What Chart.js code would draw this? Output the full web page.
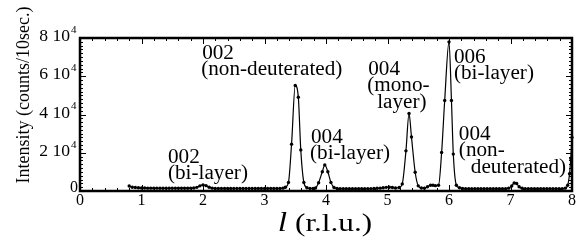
<!DOCTYPE html>
<html><head><meta charset="utf-8">
<script src="https://cdn.jsdelivr.net/npm/chart.js@4/dist/chart.umd.min.js"></script>
<style>html,body{margin:0;padding:0;background:#fff}</style>
</head><body>
<canvas id="c" width="586" height="242"></canvas>
<script>
// ---- data ----
const lValues = [
 0.80,0.85,0.90,0.95,1.00,1.05,1.10,1.15,1.20,1.25,1.30,1.35,1.40,1.45,1.50,1.55,1.60,1.65,1.70,1.75,
 1.80,1.85,1.90,1.95,2.00,2.05,2.10,2.15,2.20,2.25,2.30,2.35,2.40,2.45,2.50,2.55,2.60,2.65,2.70,2.75,
 2.80,2.85,2.90,2.95,3.00,3.05,3.10,3.15,3.20,3.25,3.30,3.34,3.39,3.44,3.50,3.55,3.59,3.64,3.69,3.74,
 3.79,3.83,3.88,3.94,3.98,4.03,4.08,4.13,4.18,4.23,4.28,4.33,4.38,4.43,4.48,4.53,4.58,4.63,4.68,4.73,
 4.78,4.83,4.88,4.93,4.98,5.03,5.08,5.13,5.19,5.24,5.30,5.35,5.39,5.45,5.50,5.55,5.60,5.65,5.70,5.74,
 5.78,5.83,5.88,5.93,6.00,6.04,6.07,6.12,6.17,6.22,6.27,6.32,6.37,6.42,6.47,6.52,6.57,6.62,6.67,6.72,
 6.77,6.82,6.87,6.92,6.97,7.02,7.06,7.10,7.14,7.19,7.24,7.29,7.34,7.39,7.44,7.49,7.54,7.59,7.64,7.69,
 7.74,7.79,7.84,7.89,7.93,7.96,7.98,8.00
];
const counts = [
 2600,2000,1800,1700,1600,1600,1500,1500,1500,1500,1400,1400,1400,1400,1400,1400,1400,1400,1400,1400,
 1500,1600,1900,2700,3200,2800,2000,1500,1300,1300,1300,1300,1300,1300,1300,1300,1300,1300,1300,1300,
 1300,1300,1300,1300,1300,1300,1300,1300,1300,1300,1500,2000,4500,24500,55200,49000,21500,4500,1700,1300,
 1300,1600,4300,10100,13600,10100,4500,1800,1300,1200,1200,1200,1200,1200,1200,1200,1200,1200,1200,1200,
 1300,1400,1500,1700,1900,2000,1800,1600,1800,3700,21000,40500,28200,9800,2700,1600,1500,2200,3000,3000,
 2800,3000,20100,47300,78000,47300,19300,3000,1700,1300,1200,1200,1200,1200,1200,1200,1200,1200,1200,1200,
 1200,1200,1200,1200,1500,2600,4200,3900,2200,1400,1200,1200,1200,1200,1200,1200,1200,1200,1200,1200,
 1200,1200,1200,1500,3000,9000,17000,28000
];
const xTickValues = [0,1,2,3,4,5,6,7,8];
const yTickValues = [0,20000,40000,60000,80000];
const yTickMantissa = ['0','2 10','4 10','6 10','8 10'];
const yTickExponent = ['','4','4','4','4'];
const peakLabels = [
 {l:1.43, c:14700, lines:['002','(bi-layer)'], dx:[0,0]},
 {l:1.97, c:69100, lines:['002','(non-deuterated)'], dx:[1,0]},
 {l:3.74, c:25100, lines:['004','(bi-layer)'], dx:[1,0]},
 {l:4.67, c:60700, lines:['004','(mono-','layer)'], dx:[1,0,10]},
 {l:6.08, c:67000, lines:['006','(bi-layer)'], dx:[0,0]},
 {l:6.16, c:26700, lines:['004','(non-','deuterated)'], dx:[0,0,12]}
];
const yTitle = 'Intensity (counts/10sec.)';
const xTitleItalic = 'l';
const xTitleRest = ' (r.l.u.)';

const SERIF = '"Liberation Serif", "DejaVu Serif", serif';

function stretchText(ctx, text, x, y, sx) {
 ctx.save(); ctx.translate(x, y); ctx.scale(sx, 1); ctx.fillText(text, 0, 0); ctx.restore();
}

const decorPlugin = {
 id:'decor',
 afterDatasetsDraw(chart){
  const ctx = chart.ctx, a = chart.chartArea, xs = chart.scales.x, ys = chart.scales.y;
  ctx.save();
  ctx.strokeStyle = '#000'; ctx.fillStyle = '#000';
  ctx.lineWidth = 1;
  ctx.beginPath();
  for (let i = 0; i <= 40; i++) {
   const v = i * 0.2, px = Math.round(xs.getPixelForValue(v)) + 0.5;
   const len = (i % 5 === 0) ? 6 : 3;
   ctx.moveTo(px, a.bottom); ctx.lineTo(px, a.bottom - len);
   ctx.moveTo(px, a.top); ctx.lineTo(px, a.top + len);
  }
  for (let i = 0; i <= 40; i++) {
   const v = i * 2000, py = Math.round(ys.getPixelForValue(v)) + 0.5;
   const len = (i % 10 === 0) ? 6 : 3;
   ctx.moveTo(a.left, py); ctx.lineTo(a.left + len, py);
   ctx.moveTo(a.right, py); ctx.lineTo(a.right - len, py);
  }
  ctx.stroke();
  ctx.lineWidth = 2.5;
  ctx.strokeRect(a.left, a.top, a.right - a.left, a.bottom - a.top);
  // y tick labels with exponent
  for (let i = 0; i < yTickValues.length; i++) {
   const py = ys.getPixelForValue(yTickValues[i]);
   ctx.textBaseline = 'middle';
   if (yTickExponent[i]) {
    ctx.font = '16px ' + SERIF; ctx.textAlign = 'right';
    ctx.save(); ctx.translate(a.left - 10, py - 1); ctx.scale(1.1, 1); ctx.fillText(yTickMantissa[i], 0, 0); ctx.restore();
    ctx.font = '11px ' + SERIF; ctx.textAlign = 'left';
    ctx.fillText(yTickExponent[i], a.left - 9, py - 8);
   } else {
    ctx.font = '16px ' + SERIF; ctx.textAlign = 'right';
    ctx.fillText(yTickMantissa[i], a.left - 2, py - 3);
   }
  }
  // peak labels
  ctx.font = '20px ' + SERIF; ctx.textAlign = 'left'; ctx.textBaseline = 'alphabetic';
  peakLabels.forEach(p => {
   const px = xs.getPixelForValue(p.l), py = ys.getPixelForValue(p.c);
   p.lines.forEach((t, k) => stretchText(ctx, t, px + p.dx[k], py + k * 16.5, 1.06));
  });
  // y title
  ctx.save();
  ctx.translate(24, 95); ctx.rotate(-Math.PI / 2);
  ctx.font = '18px ' + SERIF; ctx.textAlign = 'center'; ctx.textBaseline = 'middle';
  ctx.fillText(yTitle, 0, 0);
  ctx.restore();
  // x title
  const sx = 1.2;
  ctx.textBaseline = 'alphabetic'; ctx.textAlign = 'left';
  ctx.font = 'italic 28px ' + SERIF;
  const w1 = ctx.measureText(xTitleItalic).width * sx;
  ctx.font = '26px ' + SERIF;
  const w2 = ctx.measureText(xTitleRest).width * sx;
  const x0 = 325 - (w1 + w2) / 2;
  ctx.font = 'italic 28px ' + SERIF;
  stretchText(ctx, xTitleItalic, x0, 231, sx);
  ctx.font = '26px ' + SERIF;
  stretchText(ctx, xTitleRest, x0 + w1, 231, sx);
  ctx.restore();
 }
};

new Chart(document.getElementById('c'), {
 type: 'line',
 data: {
  datasets: [{
   data: lValues.map((l, i) => ({x: l, y: counts[i]})),
   borderColor: '#000', backgroundColor: '#000', borderWidth: 1.2,
   pointRadius: 1.7, pointBackgroundColor: '#000', pointBorderWidth: 0,
   cubicInterpolationMode: 'monotone', fill: false, clip: 2
  }]
 },
 options: {
  responsive: false, animation: false, devicePixelRatio: 1,
  layout: {padding: {left: 0, right: 14, top: 38, bottom: 0}},
  plugins: {legend: {display: false}, tooltip: {enabled: false}},
  scales: {
   x: {
    type: 'linear', min: 0, max: 8,
    afterFit(s) { s.height = 51; },
    afterBuildTicks(s) { s.ticks = xTickValues.map(v => ({value: v})); },
    grid: {display: false, drawTicks: false}, border: {display: false},
    ticks: {padding: 0, color: '#000', font: {family: SERIF, size: 16}}
   },
   y: {
    min: 0, max: 80000,
    afterFit(s) { s.width = 80; },
    grid: {display: false, drawTicks: false}, border: {display: false},
    ticks: {display: false}
   }
  }
 },
 plugins: [decorPlugin]
});
</script>
</body></html>
